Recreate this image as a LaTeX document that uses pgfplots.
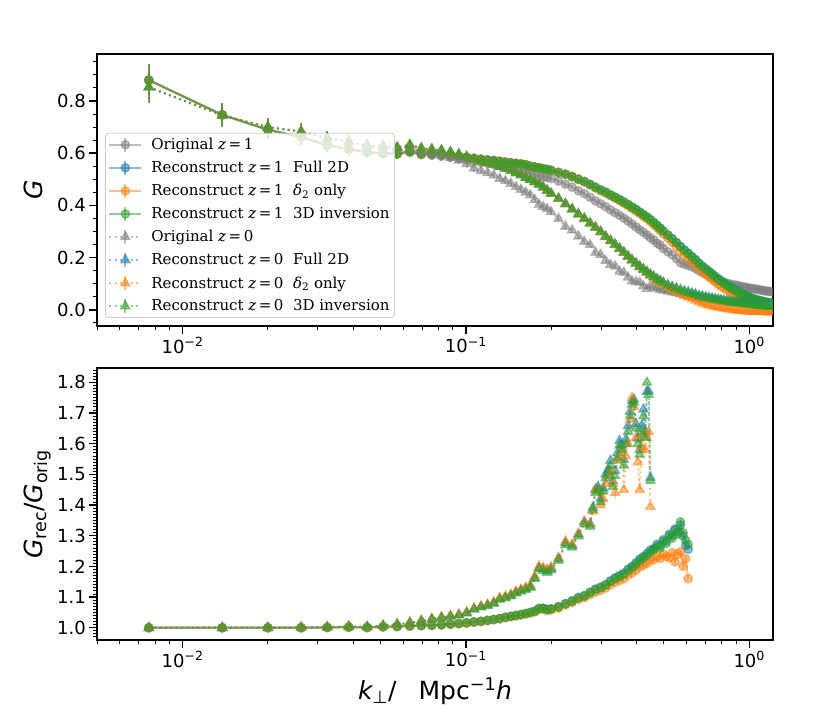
\documentclass[border=0pt]{standalone}
\usepackage{fontspec}
\setmainfont{DejaVu Sans}
\newfontfamily\legfont{DejaVu Serif}
\usepackage{pgfplots}
\usepackage{pgfplotstable}
\pgfplotsset{compat=1.18}
\definecolor{tblue}{HTML}{1F77B4}
\definecolor{torange}{HTML}{FF7F0E}
\definecolor{tgreen}{HTML}{2CA02C}
\definecolor{tgrey}{HTML}{7F7F7F}

\pgfplotstableread{
k e o1 f1 d1 t1 o0 f0 d0 t0
0.0076 0.060 0.880 0.880 0.880 0.880 0.853 0.853 0.853 0.853
0.0138 0.044 0.747 0.747 0.747 0.747 0.745 0.745 0.745 0.745
0.0200 0.036 0.690 0.690 0.690 0.690 0.700 0.700 0.700 0.700
0.0262 0.031 0.662 0.662 0.662 0.662 0.682 0.683 0.683 0.683
0.0324 0.027 0.629 0.630 0.630 0.630 0.657 0.658 0.658 0.658
0.0386 0.025 0.615 0.616 0.616 0.616 0.642 0.645 0.645 0.645
0.0448 0.023 0.603 0.604 0.604 0.604 0.628 0.630 0.630 0.630
0.0510 0.021 0.598 0.600 0.600 0.600 0.624 0.628 0.628 0.628
0.0572 0.020 0.596 0.598 0.598 0.598 0.615 0.622 0.622 0.622
0.0634 0.019 0.603 0.607 0.607 0.607 0.622 0.632 0.632 0.632
0.0696 0.018 0.594 0.598 0.598 0.598 0.606 0.619 0.619 0.619
0.0758 0.017 0.592 0.597 0.597 0.597 0.598 0.615 0.615 0.615
0.0820 0.017 0.588 0.594 0.594 0.594 0.591 0.611 0.611 0.611
0.0882 0.016 0.584 0.591 0.591 0.591 0.582 0.604 0.604 0.604
0.0944 0.015 0.579 0.587 0.587 0.587 0.573 0.596 0.596 0.596
0.1006 0.015 0.575 0.584 0.584 0.584 0.559 0.586 0.586 0.586
0.1068 0.014 0.569 0.580 0.580 0.580 0.542 0.575 0.575 0.575
0.1130 0.014 0.565 0.577 0.577 0.577 0.533 0.569 0.569 0.569
0.1192 0.014 0.561 0.574 0.574 0.574 0.525 0.563 0.563 0.563
0.1254 0.013 0.557 0.572 0.572 0.572 0.516 0.557 0.557 0.557
0.1316 0.013 0.552 0.569 0.569 0.569 0.503 0.549 0.549 0.549
0.1378 0.013 0.547 0.566 0.566 0.566 0.494 0.542 0.542 0.542
0.1440 0.012 0.543 0.563 0.563 0.563 0.484 0.534 0.534 0.534
0.1502 0.012 0.539 0.561 0.561 0.561 0.471 0.525 0.525 0.524
0.1564 0.012 0.536 0.559 0.559 0.559 0.461 0.517 0.517 0.516
0.1626 0.012 0.532 0.556 0.556 0.556 0.450 0.507 0.507 0.506
0.1688 0.011 0.524 0.550 0.550 0.550 0.440 0.499 0.499 0.498
0.1750 0.011 0.519 0.547 0.547 0.547 0.422 0.490 0.490 0.489
0.1812 0.011 0.512 0.544 0.544 0.544 0.403 0.481 0.481 0.480
0.1874 0.011 0.508 0.541 0.540 0.540 0.395 0.470 0.469 0.469
0.1936 0.011 0.507 0.538 0.537 0.537 0.387 0.458 0.457 0.457
0.1998 0.010 0.503 0.535 0.534 0.534 0.375 0.446 0.445 0.445
0.2122 0.010 0.493 0.527 0.526 0.526 0.349 0.427 0.426 0.426
0.2246 0.010 0.481 0.520 0.519 0.519 0.319 0.407 0.405 0.405
0.2370 0.009 0.470 0.511 0.510 0.510 0.305 0.387 0.385 0.385
0.2494 0.009 0.456 0.501 0.500 0.500 0.282 0.368 0.366 0.366
0.2618 0.009 0.445 0.492 0.490 0.491 0.261 0.351 0.349 0.349
0.2742 0.009 0.431 0.481 0.479 0.480 0.249 0.333 0.331 0.331
0.2866 0.008 0.417 0.470 0.467 0.469 0.219 0.317 0.315 0.315
0.2990 0.008 0.406 0.460 0.456 0.459 0.211 0.300 0.298 0.298
0.3114 0.008 0.395 0.451 0.447 0.450 0.188 0.282 0.280 0.280
0.3238 0.008 0.383 0.441 0.437 0.440 0.173 0.266 0.264 0.264
0.3362 0.008 0.372 0.432 0.427 0.431 0.167 0.251 0.249 0.249
0.3486 0.007 0.362 0.423 0.418 0.422 0.147 0.236 0.234 0.234
0.3610 0.007 0.351 0.413 0.408 0.412 0.143 0.221 0.219 0.219
0.3734 0.007 0.340 0.404 0.398 0.403 0.124 0.206 0.204 0.204
0.3858 0.007 0.329 0.394 0.388 0.393 0.110 0.192 0.190 0.190
0.3982 0.007 0.318 0.385 0.378 0.384 0.107 0.179 0.177 0.177
0.4106 0.007 0.307 0.375 0.368 0.374 0.105 0.167 0.164 0.165
0.4230 0.006 0.297 0.365 0.358 0.364 0.091 0.156 0.152 0.154
0.4354 0.006 0.287 0.356 0.349 0.355 0.080 0.146 0.142 0.144
0.4478 0.006 0.276 0.346 0.338 0.345 0.091 0.136 0.131 0.134
0.4602 0.006 0.267 0.335 0.326 0.334 0.086 0.127 0.122 0.126
0.4726 0.006 0.255 0.324 0.315 0.323 0.082 0.118 0.112 0.117
0.4850 0.006 0.248 0.313 0.303 0.312 0.078 0.111 0.104 0.110
0.4974 0.006 0.235 0.302 0.291 0.301 0.075 0.104 0.097 0.103
0.5160 0.005 0.222 0.287 0.275 0.286 0.071 0.095 0.087 0.094
0.5346 0.005 0.211 0.273 0.259 0.272 0.067 0.088 0.077 0.087
0.5532 0.005 0.196 0.258 0.242 0.257 0.064 0.082 0.069 0.081
0.5718 0.005 0.180 0.243 0.225 0.242 0.060 0.076 0.061 0.075
0.5904 0.005 0.175 0.229 0.210 0.228 0.057 0.071 0.054 0.070
0.6090 0.005 0.170 0.217 0.197 0.216 0.054 0.067 0.048 0.066
0.6276 0.005 0.165 0.204 0.184 0.203 0.051 0.063 0.042 0.062
0.6462 0.005 0.158 0.192 0.172 0.191 0.048 0.059 0.036 0.058
0.6648 0.005 0.150 0.178 0.158 0.177 0.045 0.054 0.030 0.053
0.6834 0.004 0.143 0.167 0.146 0.166 0.043 0.051 0.025 0.050
0.7020 0.004 0.137 0.157 0.136 0.156 0.041 0.048 0.021 0.047
0.7206 0.004 0.130 0.147 0.126 0.146 0.039 0.046 0.017 0.045
0.7392 0.004 0.124 0.138 0.117 0.137 0.037 0.043 0.014 0.042
0.7578 0.004 0.118 0.128 0.107 0.127 0.035 0.041 0.012 0.040
0.7764 0.004 0.113 0.119 0.098 0.118 0.033 0.039 0.010 0.038
0.7950 0.004 0.109 0.111 0.090 0.110 0.032 0.037 0.008 0.036
0.8136 0.004 0.105 0.103 0.083 0.102 0.030 0.035 0.006 0.034
0.8322 0.004 0.102 0.096 0.077 0.095 0.029 0.034 0.004 0.033
0.8508 0.004 0.099 0.089 0.070 0.088 0.028 0.032 0.002 0.031
0.8694 0.004 0.097 0.083 0.065 0.082 0.027 0.030 0.000 0.029
0.8880 0.004 0.095 0.077 0.059 0.076 0.026 0.029 -0.001 0.028
0.9066 0.004 0.093 0.071 0.054 0.070 0.025 0.028 -0.002 0.027
0.9252 0.004 0.091 0.066 0.050 0.065 0.024 0.026 -0.003 0.025
0.9438 0.004 0.089 0.061 0.046 0.060 0.023 0.025 -0.004 0.024
0.9624 0.004 0.087 0.057 0.043 0.056 0.022 0.024 -0.005 0.023
0.9810 0.004 0.085 0.052 0.039 0.051 0.021 0.023 -0.006 0.022
0.9996 0.004 0.083 0.049 0.037 0.048 0.020 0.022 -0.006 0.021
1.0182 0.004 0.082 0.045 0.034 0.044 0.019 0.021 -0.006 0.020
1.0368 0.004 0.081 0.042 0.032 0.041 0.018 0.020 -0.007 0.019
1.0554 0.004 0.079 0.040 0.030 0.039 0.018 0.019 -0.007 0.018
1.0740 0.004 0.078 0.037 0.028 0.036 0.017 0.018 -0.007 0.017
1.0926 0.004 0.076 0.035 0.026 0.034 0.016 0.017 -0.008 0.016
1.1112 0.004 0.075 0.033 0.025 0.032 0.015 0.016 -0.008 0.015
1.1298 0.004 0.073 0.031 0.023 0.030 0.015 0.015 -0.008 0.014
1.1484 0.004 0.072 0.029 0.021 0.028 0.014 0.015 -0.008 0.014
1.1670 0.004 0.071 0.028 0.020 0.027 0.014 0.014 -0.009 0.013
1.1856 0.004 0.070 0.027 0.019 0.026 0.013 0.014 -0.009 0.013
1.2042 0.004 0.069 0.026 0.018 0.025 0.013 0.013 -0.009 0.012
}\Gtab

\pgfplotstableread{
k f d t
0.0076 1.000 1.000 1.000
0.0138 1.000 1.000 1.000
0.0200 1.000 1.000 1.000
0.0262 1.000 1.000 1.000
0.0324 1.001 1.001 1.001
0.0386 1.002 1.002 1.002
0.0448 1.001 1.000 1.001
0.0510 1.003 1.003 1.003
0.0572 1.004 1.004 1.004
0.0634 1.006 1.005 1.006
0.0696 1.007 1.007 1.007
0.0758 1.008 1.008 1.008
0.0820 1.010 1.009 1.010
0.0882 1.012 1.011 1.012
0.0944 1.014 1.013 1.014
0.1006 1.016 1.015 1.016
0.1068 1.019 1.018 1.019
0.1130 1.021 1.020 1.021
0.1192 1.024 1.023 1.024
0.1254 1.027 1.026 1.027
0.1316 1.030 1.029 1.030
0.1378 1.034 1.033 1.034
0.1440 1.037 1.036 1.037
0.1502 1.040 1.039 1.040
0.1564 1.043 1.042 1.043
0.1626 1.046 1.045 1.046
0.1688 1.050 1.048 1.050
0.1750 1.054 1.052 1.054
0.1812 1.063 1.060 1.062
0.1874 1.064 1.061 1.063
0.1936 1.060 1.056 1.059
0.1998 1.062 1.058 1.061
0.2122 1.069 1.064 1.068
0.2246 1.079 1.074 1.078
0.2370 1.088 1.082 1.086
0.2494 1.099 1.092 1.097
0.2618 1.105 1.098 1.103
0.2742 1.116 1.108 1.114
0.2866 1.126 1.116 1.124
0.2990 1.133 1.122 1.130
0.3114 1.141 1.129 1.138
0.3238 1.153 1.140 1.150
0.3362 1.163 1.148 1.160
0.3486 1.171 1.154 1.167
0.3610 1.178 1.160 1.174
0.3734 1.191 1.172 1.187
0.3858 1.200 1.179 1.196
0.3982 1.212 1.188 1.207
0.4106 1.224 1.198 1.219
0.4230 1.232 1.204 1.227
0.4354 1.242 1.210 1.236
0.4478 1.253 1.220 1.248
0.4602 1.258 1.222 1.253
0.4726 1.272 1.232 1.266
0.4850 1.268 1.226 1.260
0.4974 1.287 1.240 1.281
0.5098 1.282 1.232 1.275
0.5222 1.305 1.228 1.300
0.5346 1.300 1.245 1.292
0.5470 1.322 1.215 1.318
0.5594 1.312 1.240 1.305
0.5718 1.335 1.248 1.345
0.5842 1.300 1.200 1.310
0.5966 1.268 1.225 1.285
0.6090 1.256 1.160 1.272
}\Rone

\pgfplotstableread{
k f d t
0.0076 1.000 1.000 1.000
0.0138 1.000 1.000 1.000
0.0200 1.000 1.000 1.000
0.0262 1.001 1.001 1.001
0.0324 1.002 1.002 1.002
0.0386 1.004 1.004 1.004
0.0448 1.003 1.002 1.003
0.0510 1.007 1.007 1.007
0.0572 1.011 1.011 1.011
0.0634 1.016 1.016 1.016
0.0696 1.022 1.023 1.022
0.0758 1.028 1.029 1.028
0.0820 1.033 1.034 1.033
0.0882 1.037 1.039 1.037
0.0944 1.041 1.043 1.041
0.1006 1.048 1.051 1.048
0.1068 1.061 1.063 1.060
0.1130 1.068 1.070 1.067
0.1192 1.073 1.076 1.072
0.1254 1.081 1.083 1.079
0.1316 1.094 1.097 1.092
0.1378 1.099 1.102 1.097
0.1440 1.106 1.108 1.103
0.1502 1.115 1.118 1.112
0.1564 1.122 1.125 1.119
0.1626 1.127 1.131 1.124
0.1688 1.134 1.139 1.131
0.1750 1.163 1.168 1.160
0.1812 1.196 1.200 1.192
0.1874 1.191 1.196 1.186
0.1936 1.185 1.190 1.180
0.1998 1.193 1.198 1.188
0.2122 1.225 1.228 1.219
0.2246 1.277 1.282 1.270
0.2370 1.268 1.272 1.262
0.2494 1.305 1.306 1.298
0.2618 1.346 1.345 1.338
0.2742 1.340 1.336 1.330
0.2804 1.392 1.380 1.385
0.2866 1.452 1.448 1.440
0.2928 1.460 1.445 1.452
0.2990 1.422 1.400 1.410
0.3052 1.455 1.420 1.445
0.3114 1.500 1.470 1.488
0.3176 1.515 1.495 1.505
0.3238 1.545 1.510 1.530
0.3300 1.478 1.470 1.460
0.3362 1.512 1.440 1.495
0.3424 1.570 1.545 1.555
0.3486 1.610 1.560 1.595
0.3548 1.596 1.580 1.580
0.3610 1.548 1.450 1.530
0.3672 1.615 1.560 1.600
0.3734 1.658 1.600 1.640
0.3796 1.705 1.680 1.690
0.3858 1.740 1.750 1.728
0.3920 1.745 1.720 1.735
0.3982 1.665 1.620 1.650
0.4044 1.618 1.540 1.600
0.4106 1.580 1.450 1.565
0.4168 1.658 1.590 1.640
0.4230 1.712 1.630 1.690
0.4292 1.640 1.580 1.620
0.4354 1.770 1.620 1.800
0.4416 1.772 1.640 1.760
0.4478 1.490 1.395 1.480
}\Rzero

\tikzset{
  zone/.style={solid, line width=2pt, mark=*, mark size=4.2pt, opacity=0.5,
    mark options={solid, line width=1.4pt}},
  zzero/.style={dash pattern=on 2pt off 3.4pt, line width=2pt, mark=triangle*, mark size=5.2pt, opacity=0.5,
    mark options={solid, line width=1.4pt}},
}

\begin{document}
\begin{tikzpicture}
\useasboundingbox (0pt,0pt) rectangle (814pt,-728pt);
\begin{axis}[at={(97.3pt,-54pt)}, anchor=north west, scale only axis, width=675.4pt, height=272pt,
  xmode=log, xmin=0.005, xmax=1.21,
  ymin=-0.062, ymax=0.98,
  axis line style={line width=1.8pt},
  tick align=outside, tick pos=left,
  major tick length=8pt, minor tick length=4pt,
  every tick/.style={black, line width=1.4pt},
  every minor tick/.style={black, line width=1pt},
  xtick={0.01,0.1,1},
  xticklabels={10\textsuperscript{−2},10\textsuperscript{−1},10\textsuperscript{0}},
  minor xtick={0.005,0.006,0.007,0.008,0.009,0.02,0.03,0.04,0.05,0.06,0.07,0.08,0.09,0.2,0.3,0.4,0.5,0.6,0.7,0.8,0.9},
  tick label style={font=\fontsize{18}{21}\selectfont},
  yticklabel={\pgfmathprintnumber[fixed,fixed zerofill,precision=1,assume math mode=true]{\tick}},
  clip marker paths=true,
  ytick={0,0.2,0.4,0.6,0.8},
  minor ytick={-0.05,0.05,0.1,0.15,0.25,0.3,0.35,0.45,0.5,0.55,0.65,0.7,0.75,0.85,0.9,0.95},
  ylabel={\itshape G},
  ylabel style={at={(axis description cs:-0.0804,0.5)}, anchor=base, font=\fontsize{25}{30}\selectfont},
  legend image code/.code={
    \draw[mark repeat=2,mark phase=2,#1] plot coordinates {(1pt,0pt) (17pt,0pt) (33pt,0pt)};
    \draw[#1, solid, mark=none] (17pt,-7pt) -- (17pt,7pt);
  },
  legend cell align=left,
  legend style={at={(0.0114,0.71)}, anchor=north west,
    draw=black!20, fill=white, fill opacity=0.8, text opacity=1,
    rounded corners=3pt, line width=0.8pt,
    font=\legfont\fontsize{15}{18}\selectfont,
    inner xsep=3pt, inner ysep=3pt, row sep=6.2pt},
]
\addplot[zone, color=tgrey, error bars/.cd, y dir=both, y explicit, error mark=none, error bar style={solid, line width=2pt}] table[x=k, y=o1, y error=e] {\Gtab};
\addlegendentry{\hspace{7pt}Original \textit{z}\,=\,1}
\addplot[zone, color=tblue, error bars/.cd, y dir=both, y explicit, error mark=none, error bar style={solid, line width=2pt}] table[x=k, y=f1, y error=e] {\Gtab};
\addlegendentry{\hspace{7pt}Reconstruct \textit{z}\,=\,1\ \ Full 2D}
\addplot[zone, color=torange, error bars/.cd, y dir=both, y explicit, error mark=none, error bar style={solid, line width=2pt}] table[x=k, y=d1, y error=e] {\Gtab};
\addlegendentry{\hspace{7pt}Reconstruct \textit{z}\,=\,1\ \ \textit{δ}\textsubscript{2} only}
\addplot[zone, color=tgreen, error bars/.cd, y dir=both, y explicit, error mark=none, error bar style={solid, line width=2pt}] table[x=k, y=t1, y error=e] {\Gtab};
\addlegendentry{\hspace{7pt}Reconstruct \textit{z}\,=\,1\ \ 3D inversion}
\addplot[zzero, color=tgrey, error bars/.cd, y dir=both, y explicit, error mark=none, error bar style={solid, line width=2pt}] table[x=k, y=o0, y error=e] {\Gtab};
\addlegendentry{\hspace{7pt}Original \textit{z}\,=\,0}
\addplot[zzero, color=tblue, error bars/.cd, y dir=both, y explicit, error mark=none, error bar style={solid, line width=2pt}] table[x=k, y=f0, y error=e] {\Gtab};
\addlegendentry{\hspace{7pt}Reconstruct \textit{z}\,=\,0\ \ Full 2D}
\addplot[zzero, color=torange, error bars/.cd, y dir=both, y explicit, error mark=none, error bar style={solid, line width=2pt}] table[x=k, y=d0, y error=e] {\Gtab};
\addlegendentry{\hspace{7pt}Reconstruct \textit{z}\,=\,0\ \ \textit{δ}\textsubscript{2} only}
\addplot[zzero, color=tgreen, error bars/.cd, y dir=both, y explicit, error mark=none, error bar style={solid, line width=2pt}] table[x=k, y=t0, y error=e] {\Gtab};
\addlegendentry{\hspace{7pt}Reconstruct \textit{z}\,=\,0\ \ 3D inversion}
\end{axis}

\begin{axis}[at={(97.3pt,-368.3pt)}, anchor=north west, scale only axis, width=675.4pt, height=271.7pt,
  xmode=log, xmin=0.005, xmax=1.21,
  ymin=0.96, ymax=1.846,
  axis line style={line width=1.8pt},
  tick align=outside, tick pos=left,
  major tick length=8pt, minor tick length=4pt,
  every tick/.style={black, line width=1.4pt},
  every minor tick/.style={black, line width=1pt},
  xtick={0.01,0.1,1},
  xticklabels={10\textsuperscript{−2},10\textsuperscript{−1},10\textsuperscript{0}},
  minor xtick={0.005,0.006,0.007,0.008,0.009,0.02,0.03,0.04,0.05,0.06,0.07,0.08,0.09,0.2,0.3,0.4,0.5,0.6,0.7,0.8,0.9},
  tick label style={font=\fontsize{18}{21}\selectfont},
  yticklabel={\pgfmathprintnumber[fixed,fixed zerofill,precision=1,assume math mode=true]{\tick}},
  clip marker paths=true,
  ytick={1.0,1.1,1.2,1.3,1.4,1.5,1.6,1.7,1.8},
  minor ytick={0.97,0.98,0.99,1.01,1.02,1.03,1.04,1.05,1.06,1.07,1.08,1.09,1.11,1.12,1.13,1.14,1.15,1.16,1.17,1.18,1.19,1.21,1.22,1.23,1.24,1.25,1.26,1.27,1.28,1.29,1.31,1.32,1.33,1.34,1.35,1.36,1.37,1.38,1.39,1.41,1.42,1.43,1.44,1.45,1.46,1.47,1.48,1.49,1.51,1.52,1.53,1.54,1.55,1.56,1.57,1.58,1.59,1.61,1.62,1.63,1.64,1.65,1.66,1.67,1.68,1.69,1.71,1.72,1.73,1.74,1.75,1.76,1.77,1.78,1.79,1.81,1.82,1.83,1.84},
  ylabel={{\itshape G}\textsubscript{rec}/{\itshape G}\textsubscript{orig}},
  ylabel style={at={(axis description cs:-0.0804,0.5)}, anchor=base, font=\fontsize{25}{30}\selectfont},
  xlabel={{\itshape k}\textsubscript{⊥}/\hspace{22pt}Mpc\textsuperscript{−1}{\itshape h}},
  xlabel style={at={(axis description cs:0.5,-0.2208)}, anchor=base, font=\fontsize{25}{30}\selectfont},
]
\addplot[zone, color=tblue] table[x=k, y=f] {\Rone};
\addplot[zone, color=torange] table[x=k, y=d] {\Rone};
\addplot[zone, color=tgreen] table[x=k, y=t] {\Rone};
\addplot[zzero, color=tblue] table[x=k, y=f] {\Rzero};
\addplot[zzero, color=torange] table[x=k, y=d] {\Rzero};
\addplot[zzero, color=tgreen] table[x=k, y=t] {\Rzero};
\end{axis}
\end{tikzpicture}
\end{document}
